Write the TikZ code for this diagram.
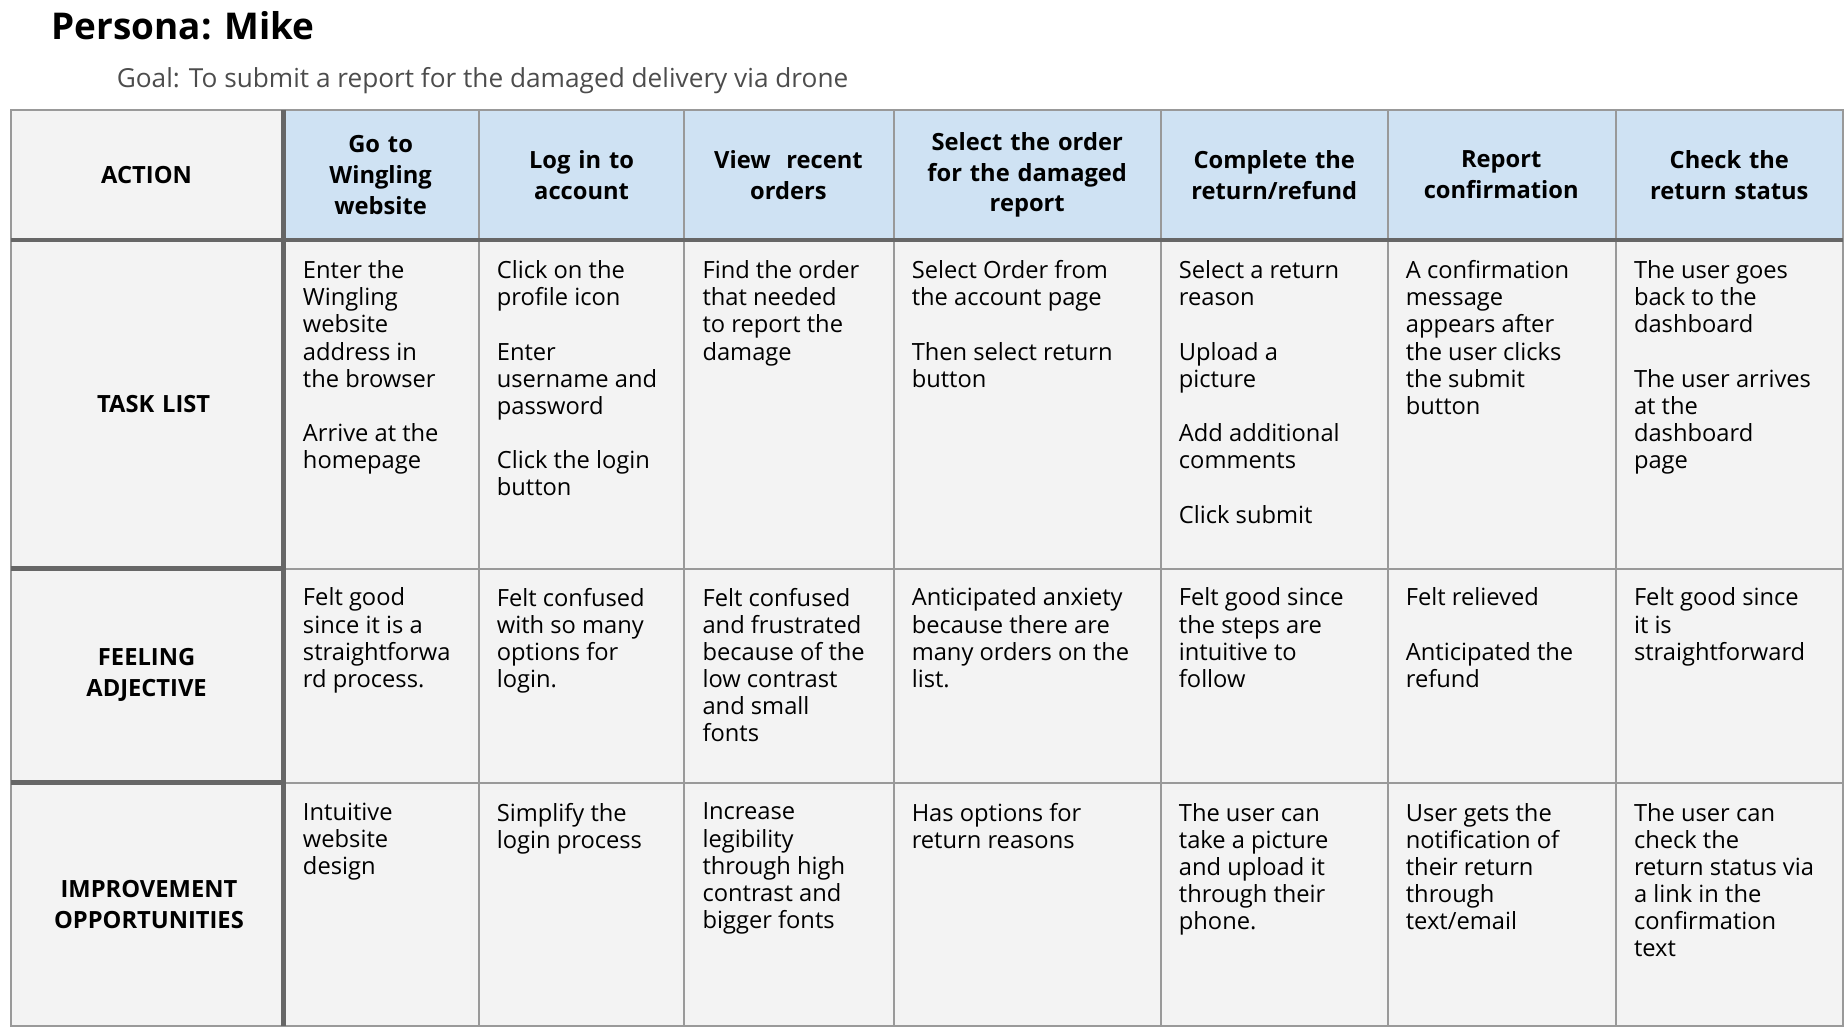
\documentclass[tikz,border=0pt]{standalone}
\usepackage{fontspec}
\setmainfont{Open Sans}
\usetikzlibrary{positioning}
\definecolor{headblue}{RGB}{207,226,243}
\definecolor{cellgray}{RGB}{243,243,243}
\definecolor{gridgray}{RGB}{153,153,153}
\definecolor{rulegray}{RGB}{102,102,102}
\newcommand{\gap}{\\[14pt]}

\begin{document}
\begin{tikzpicture}[x=0.0214cm, y=-0.0214cm,
    head/.style={font=\fontsize{12.2}{15.8}\selectfont\bfseries, align=center, text width=150},
    rowlabel/.style={font=\fontsize{12.2}{15.8}\selectfont\bfseries, align=center, text width=215},
    cell/.style={anchor=north west, font=\fontsize{12.2}{14}\selectfont, align=left, inner sep=0pt}
]
\useasboundingbox (0,0) rectangle (1560,873);

% Title
\node[anchor=west, font=\fontsize{19}{22}\selectfont\bfseries] (title) at (38,22) {Persona: Mike};
\node[anchor=west, font=\fontsize{13.5}{16}\selectfont, text=black!70] (goal) at (93,68) {Goal: To submit a report for the damaged delivery via drone};

% Grid
\fill[cellgray] (9,93) rectangle (1559,868);
\fill[headblue] (240,93) rectangle (1559,203);
\draw[gridgray, line width=1pt] (9,93) rectangle (1559,868);
\foreach \x in {405,579,756,982,1174,1367}
  \draw[gridgray, line width=1pt] (\x,93) -- (\x,868);
\foreach \y in {481,662}
  \draw[gridgray, line width=1pt] (9,\y) -- (1559,\y);
\draw[rulegray, line width=2.5pt] (9,203) -- (1559,203);
\draw[rulegray, line width=2.5pt] (240,93) -- (240,868);
\foreach \y in {481,662}
  \draw[rulegray, line width=2.5pt] (9,\y) -- (240,\y);

% Header row
\node[rowlabel] (action) at (124,148) {ACTION};
\node[head] (h1) at (322,148) {Go to\\Wingling\\website};
\node[head] (h2) at (492,148) {Log in to\\account};
\node[head] (h3) at (667,148) {View\ \ recent\\orders};
\node[head, text width=200] (h4) at (869,148) {Select the order\\for the damaged\\report};
\node[head] (h5) at (1078,148) {Complete the\\return/refund};
\node[head] (h6) at (1270,148) {Report\\confirmation};
\node[head] (h7) at (1463,148) {Check the\\return status};

% Row labels
\node[rowlabel] (task) at (130,342) {TASK LIST};
\node[rowlabel] (feel) at (124,571) {FEELING\\ADJECTIVE};
\node[rowlabel] (impr) at (126,765) {IMPROVEMENT\\OPPORTUNITIES};

% Task list
\node[cell] (t1) at (256,220) {Enter the\\Wingling\\website\\address in\\the browser\gap Arrive at the\\homepage};
\node[cell] (t2) at (420,220) {Click on the\\profile icon\gap Enter\\username and\\password\gap Click the login\\button};
\node[cell] (t3) at (594,220) {Find the order\\that needed\\to report the\\damage};
\node[cell] (t4) at (771,220) {Select Order from\\the account page\gap Then select return\\button};
\node[cell] (t5) at (997,220) {Select a return\\reason\gap Upload a\\picture\gap Add additional\\comments\gap Click submit};
\node[cell] (t6) at (1189,220) {A confirmation\\message\\appears after\\the user clicks\\the submit\\button};
\node[cell] (t7) at (1382,220) {The user goes\\back to the\\dashboard\gap The user arrives\\at the\\dashboard\\page};

% Feelings
\node[cell] (f1) at (256,497) {Felt good\\since it is a\\straightforwa\\rd process.};
\node[cell] (f2) at (420,497) {Felt confused\\with so many\\options for\\login.};
\node[cell] (f3) at (594,497) {Felt confused\\and frustrated\\because of the\\low contrast\\and small\\fonts};
\node[cell] (f4) at (771,497) {Anticipated anxiety\\because there are\\many orders on the\\list.};
\node[cell] (f5) at (997,497) {Felt good since\\the steps are\\intuitive to\\follow};
\node[cell] (f6) at (1189,497) {Felt relieved\gap Anticipated the\\refund};
\node[cell] (f7) at (1382,497) {Felt good since\\it is\\straightforward};

% Improvements
\node[cell] (i1) at (256,679) {Intuitive\\website\\design};
\node[cell] (i2) at (420,679) {Simplify the\\login process};
\node[cell] (i3) at (594,679) {Increase\\legibility\\through high\\contrast and\\bigger fonts};
\node[cell] (i4) at (771,679) {Has options for\\return reasons};
\node[cell] (i5) at (997,679) {The user can\\take a picture\\and upload it\\through their\\phone.};
\node[cell] (i6) at (1189,679) {User gets the\\notification of\\their return\\through\\text/email};
\node[cell] (i7) at (1382,679) {The user can\\check the\\return status via\\a link in the\\confirmation\\text};

\end{tikzpicture}
\end{document}
